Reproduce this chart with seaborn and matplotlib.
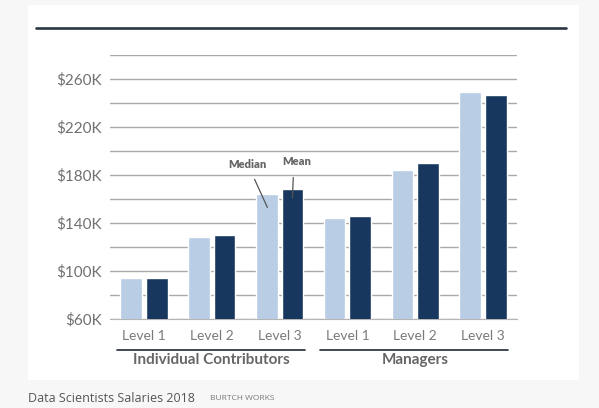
import pandas
import seaborn
import matplotlib.pyplot as plt
from matplotlib.patches import Rectangle
from matplotlib.lines import Line2D
from matplotlib.ticker import FixedLocator, MultipleLocator, FuncFormatter

groups = ['Individual Contributors', 'Managers']
levels = ['Level 1', 'Level 2', 'Level 3']
median_salary = [94, 128, 164, 144, 184, 249]  # $K
mean_salary = [94, 130, 168, 146, 190, 247]  # $K
y_labels = [60, 100, 140, 180, 220, 260]
caption = 'Data Scientists Salaries 2018'
source = 'BURTCH WORKS'

LIGHT = '#b9cde5'
DARK = '#17375e'
GRID = '#a9a9a9'


def main():
    seaborn.set_style('white')
    plt.rcParams['font.family'] = ['Lato', 'DejaVu Sans']

    slots = [g + ' ' + lv for g in groups for lv in levels]
    data = pandas.DataFrame({
        'slot': slots * 2,
        'stat': ['Median'] * len(slots) + ['Mean'] * len(slots),
        'salary': median_salary + mean_salary,
    })

    fig = plt.figure(figsize=(5.99, 4.08), dpi=100, facecolor='#f7f7f7')
    fig.patches.append(Rectangle((28 / 599, 1 - 380 / 408), 551 / 599, 375 / 408,
                                 transform=fig.transFigure, facecolor='white',
                                 edgecolor='none', zorder=-5))
    fig.lines.append(Line2D([36 / 599, 566 / 599], [1 - 28 / 408, 1 - 28 / 408],
                            transform=fig.transFigure, color='#2a3641', lw=1.9))

    ax = fig.add_axes([110 / 599, 1 - 319 / 408, 407 / 599, 264 / 408])
    ax.set_facecolor('white')
    seaborn.barplot(data=data, x='slot', y='salary', hue='stat',
                    palette=[LIGHT, DARK], saturation=1, width=0.76, gap=0.16,
                    legend=False, ax=ax, zorder=3)

    ax.set_xlim(-0.5, len(slots) - 0.5)
    ax.yaxis.set_major_locator(FixedLocator(y_labels))
    ax.yaxis.set_minor_locator(MultipleLocator(20))
    ax.yaxis.set_major_formatter(FuncFormatter(lambda v, p: '$%dK' % v))
    ax.grid(True, axis='y', which='both', color=GRID, lw=1, zorder=0)
    ax.set_axisbelow(True)
    ax.set_ylim(60, 280)
    ax.tick_params(axis='y', which='both', length=0, labelsize=11,
                   labelcolor='#707070', pad=6)

    ax.set_xticks(range(len(slots)))
    ax.set_xticklabels(levels * len(groups))
    ax.set_xticks([i - 0.5 for i in range(len(slots) + 1)], minor=True)
    ax.tick_params(axis='x', which='major', length=0, labelsize=10,
                   labelcolor='#7a7a7a', pad=8)
    ax.tick_params(axis='x', which='minor', length=4, color='#999999', width=1)
    ax.set_xlabel('')
    ax.set_ylabel('')
    for side in ['top', 'right', 'left']:
        ax.spines[side].set_visible(False)
    ax.spines['bottom'].set_color('#b5b5b5')

    # Median / Mean call-outs on the Level 3 individual contributor bars
    ax.annotate('Median', xy=(1.82, median_salary[2] - 11), xytext=(1.53, 189),
                ha='center', va='center', fontsize=8, fontweight='heavy',
                color='#666666',
                arrowprops=dict(arrowstyle='-', color='#555555', lw=0.9,
                                shrinkA=5, shrinkB=0))
    ax.annotate('Mean', xy=(2.19, mean_salary[2] - 7), xytext=(2.25, 191),
                ha='center', va='center', fontsize=8, fontweight='heavy',
                color='#666666',
                arrowprops=dict(arrowstyle='-', color='#555555', lw=0.9,
                                shrinkA=5, shrinkB=0, relpos=(0.4, 0)))

    # group underlines and labels
    trans = ax.get_xaxis_transform()
    for i, name in enumerate(groups):
        start = i * len(levels) - 0.5
        end = start + len(levels)
        ax.plot([start + 0.1, end - 0.13], [-0.117, -0.117], transform=trans,
                color='#1f2a36', lw=1.2, clip_on=False)
        ax.text((start + end) / 2, -0.157, name, transform=trans, ha='center',
                va='center', fontsize=11, fontweight='bold', color='#666666')

    fig.text(28 / 599, 1 - 398 / 408, caption, family=['Open Sans', 'DejaVu Sans'],
             fontsize=9, color='#555555', va='center')
    fig.text(210 / 599, 1 - 398 / 408, source, family=['Open Sans', 'DejaVu Sans'],
             fontsize=6, color='#777777', va='center')

    plt.savefig('out.png', dpi=100, facecolor=fig.get_facecolor())


if __name__ == '__main__':
    main()
